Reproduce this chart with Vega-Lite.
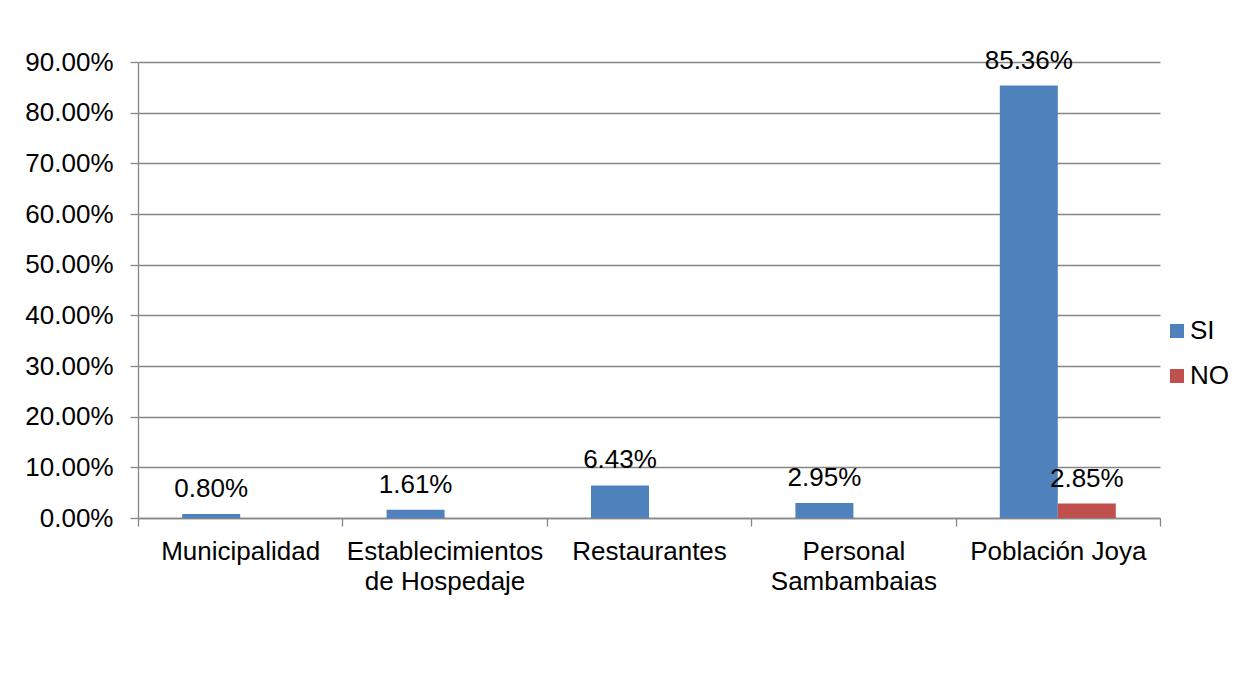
{
  "$schema": "https://vega.github.io/schema/vega-lite/v6.json",
  "autosize": {"type": "none"},
  "padding": {"left": 138, "top": 62, "right": 84, "bottom": 172},
  "width": 1022,
  "height": 456,
  "background": "white",
  "config": {
    "font": "Liberation Sans",
    "view": {"stroke": null},
    "axis": {"labelFont": "Liberation Sans", "labelColor": "#000000", "domainColor": "#868686", "tickColor": "#868686", "gridColor": "#868686", "domainWidth": 1.3, "tickWidth": 1.3, "gridWidth": 1.3}
  },
  "data": {
    "values": [
      {"categoria": "Municipalidad", "serie": "SI", "valor": 0.008},
      {"categoria": "Municipalidad", "serie": "NO", "valor": 0},
      {"categoria": "Establecimientos de Hospedaje", "serie": "SI", "valor": 0.0161},
      {"categoria": "Establecimientos de Hospedaje", "serie": "NO", "valor": 0},
      {"categoria": "Restaurantes", "serie": "SI", "valor": 0.0643},
      {"categoria": "Restaurantes", "serie": "NO", "valor": 0},
      {"categoria": "Personal Sambambaias", "serie": "SI", "valor": 0.0295},
      {"categoria": "Personal Sambambaias", "serie": "NO", "valor": 0},
      {"categoria": "Población Joya", "serie": "SI", "valor": 0.8536},
      {"categoria": "Población Joya", "serie": "NO", "valor": 0.0285}
    ]
  },
  "encoding": {
    "x": {
      "field": "categoria", "type": "nominal", "sort": null,
      "scale": {"paddingInner": 0, "paddingOuter": 0},
      "axis": {
        "title": null, "labelAngle": 0, "labelFontSize": 26, "labelPadding": 12,
        "tickBand": "extent", "tickSize": 8, "labelLineHeight": 30, "labelLimit": 0,
        "labelExpr": "datum.value == 'Establecimientos de Hospedaje' ? ['Establecimientos', 'de Hospedaje'] : datum.value == 'Personal Sambambaias' ? ['Personal', 'Sambambaias'] : datum.value"
      }
    },
    "xOffset": {
      "field": "serie", "type": "nominal", "sort": ["SI", "NO"],
      "scale": {"paddingInner": 0, "paddingOuter": 0.762}
    },
    "y": {
      "field": "valor", "type": "quantitative",
      "scale": {"domain": [0, 0.9], "nice": false},
      "axis": {"title": null, "format": ".2%", "values": [0, 0.1, 0.2, 0.3, 0.4, 0.5, 0.6, 0.7, 0.8, 0.9], "labelFontSize": 26, "tickSize": 8, "labelPadding": 17, "grid": true}
    }
  },
  "layer": [
    {
      "mark": {"type": "bar"},
      "encoding": {
        "color": {
          "field": "serie", "type": "nominal", "sort": ["SI", "NO"],
          "scale": {"domain": ["SI", "NO"], "range": ["#4F81BD", "#C0504D"]},
          "legend": {
            "title": null, "orient": "none", "legendX": 1026, "legendY": 256,
            "symbolType": "square", "symbolSize": 196, "symbolStrokeWidth": 0,
            "labelFontSize": 26, "labelFont": "Liberation Sans", "labelColor": "#000000",
            "labelOffset": 0, "rowPadding": 19
          }
        }
      }
    },
    {
      "transform": [{"filter": "datum.valor > 0"}],
      "mark": {"type": "text", "fontSize": 26, "baseline": "alphabetic", "dy": -17, "color": "#000000"},
      "encoding": {
        "text": {"field": "valor", "type": "quantitative", "format": ".2%"}
      }
    }
  ]
}
